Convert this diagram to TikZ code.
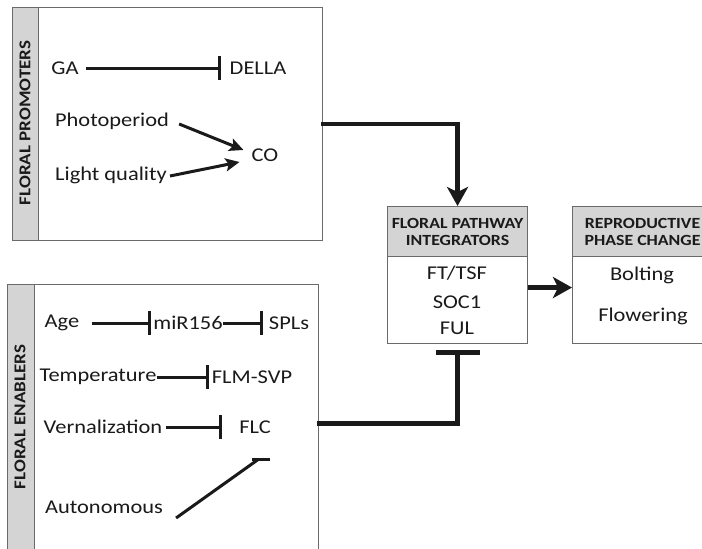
\documentclass[tikz,border=0pt]{standalone}
\usepackage{fontspec}
\setmainfont{Carlito}[FakeStretch=1.15]
\usetikzlibrary{arrows.meta,calc}
\definecolor{txt}{HTML}{1A1A1A}
\definecolor{hdr}{HTML}{D4D4D4}
\definecolor{frame}{HTML}{6A6A6A}
\begin{document}
\begin{tikzpicture}[x=1pt,y=-1pt,
  lbl/.style={inner sep=0pt, text=txt, font=\fontsize{19.5}{21}\selectfont},
  head/.style={inner sep=0pt, text=txt, align=center, font=\fontsize{15.5}{17}\selectfont\bfseries},
  side/.style={inner sep=0pt, text=txt, rotate=90, font=\fontsize{16.5}{18}\selectfont\bfseries},
  boxn/.style={draw=frame, line width=1.1pt, fill=white, inner sep=0pt, anchor=north west},
  hbox/.style={draw=frame, line width=1.1pt, fill=hdr, inner sep=0pt, anchor=north west},
  inh/.style={line width=3pt, draw=txt, -{Bar[width=24pt,line width=3pt]}},
  act/.style={line width=3pt, draw=txt, -{Stealth[length=14pt,width=13pt,inset=3pt]}},
  big/.style={line width=4.5pt, draw=txt, -{Stealth[length=19pt,width=21pt,inset=5pt]}},
  bigbar/.style={line width=4.5pt, draw=txt, -{Bar[width=44pt,line width=5pt]}}
]
\useasboundingbox (0,0) rectangle (702,549);
\clip (0,0) rectangle (702,549);

% Floral promoters box
\node[boxn, minimum width=310pt, minimum height=233pt] (prom) at (12,7) {};
\node[hbox, minimum width=26pt, minimum height=233pt] (promh) at (12,7) {};
\node[side] (promt) at (25,123) {FLORAL PROMOTERS};

\node[lbl] (GA) at (65,68) {GA};
\node[lbl] (DELLA) at (258,68) {DELLA};
\node[lbl] (Photo) at (112,121) {Photoperiod};
\node[lbl] (CO) at (265,155) {CO};
\node[lbl] (LQ) at (111,175) {Light quality};

\draw[inh, shorten <=7pt, shorten >=9pt] (GA.east) -- (DELLA.west);
\draw[act] ($(Photo.east)+(10,3)$) -- ($(CO.west)+(-8,-5)$);
\draw[act] ($(LQ.east)+(3,1)$) -- ($(CO.west)+(-12,7)$);

% Floral enablers box
\node[boxn, minimum width=311pt, minimum height=300pt] (enab) at (7,284) {};
\node[hbox, minimum width=27pt, minimum height=300pt] (enabh) at (7,284) {};
\node[side] (enabt) at (20,417) {FLORAL ENABLERS};

\node[lbl] (Age) at (62,323) {Age};
\node[lbl] (miR) at (188,323) {miR156};
\node[lbl] (SPL) at (289,323) {SPLs};
\node[lbl] (Temp) at (98,377) {Temperature};
\node[lbl] (FLM) at (252,377) {FLM-SVP};
\node[lbl] (Vern) at (103,427) {Vernalization};
\node[lbl] (FLC) at (255,427) {FLC};
\node[lbl] (Auto) at (104,507) {Autonomous};

\draw[inh, shorten <=13pt, shorten >=2pt] (Age.east) -- (miR.west);
\draw[inh, shorten <=0pt, shorten >=6pt] (miR.east) -- (SPL.west);
\draw[inh, shorten <=0pt, shorten >=3pt] (Temp.east) -- (FLM.west);
\draw[inh, shorten <=4pt, shorten >=17pt] (Vern.east) -- (FLC.west);
\coordinate (flcbar) at ($(FLC.south)+(3,26)$);
\draw[line width=3pt, draw=txt] ($(Auto.east)+(13,11)$) -- (flcbar);
\draw[line width=3pt, draw=txt] ($(flcbar)+(-6,0)$) -- ($(flcbar)+(12,0)$);

% Integrators
\node[boxn, minimum width=140pt, minimum height=137pt] (integ) at (387,206) {};
\node[hbox, minimum width=140pt, minimum height=50pt] (integh) at (387,206) {};
\node[head] at (integh.center) {FLORAL PATHWAY\\INTEGRATORS};
\node[lbl] (FT) at (457,273) {FT/TSF};
\node[lbl] (SOC) at (457,302) {SOC1};
\node[lbl] (FUL) at (457,328) {FUL};

% Reproductive phase change
\node[boxn, minimum width=140pt, minimum height=137pt] (repro) at (572,206) {};
\node[hbox, minimum width=140pt, minimum height=50pt] (reproh) at (572,206) {};
\node[head] at (reproh.center) {REPRODUCTIVE\\PHASE CHANGE};
\node[lbl] (Bolt) at (642,275) {Bolting};
\node[lbl] (Flow) at (643,316) {Flowering};

% Connectors
\draw[big, line cap=rect] (prom.east) -- (prom.east -| integ.north) -- (integ.north);
\coordinate (a1) at ($(integ.east)+(0,12.5)$);
\draw[big] (a1) -- (a1 -| repro.west);
\coordinate (e1) at ($(enab.east)+(0,-11)$);
\draw[bigbar, line cap=rect] (e1) -- (e1 -| integ.south) -- ($(integ.south)+(0,6)$);
\end{tikzpicture}
\end{document}
